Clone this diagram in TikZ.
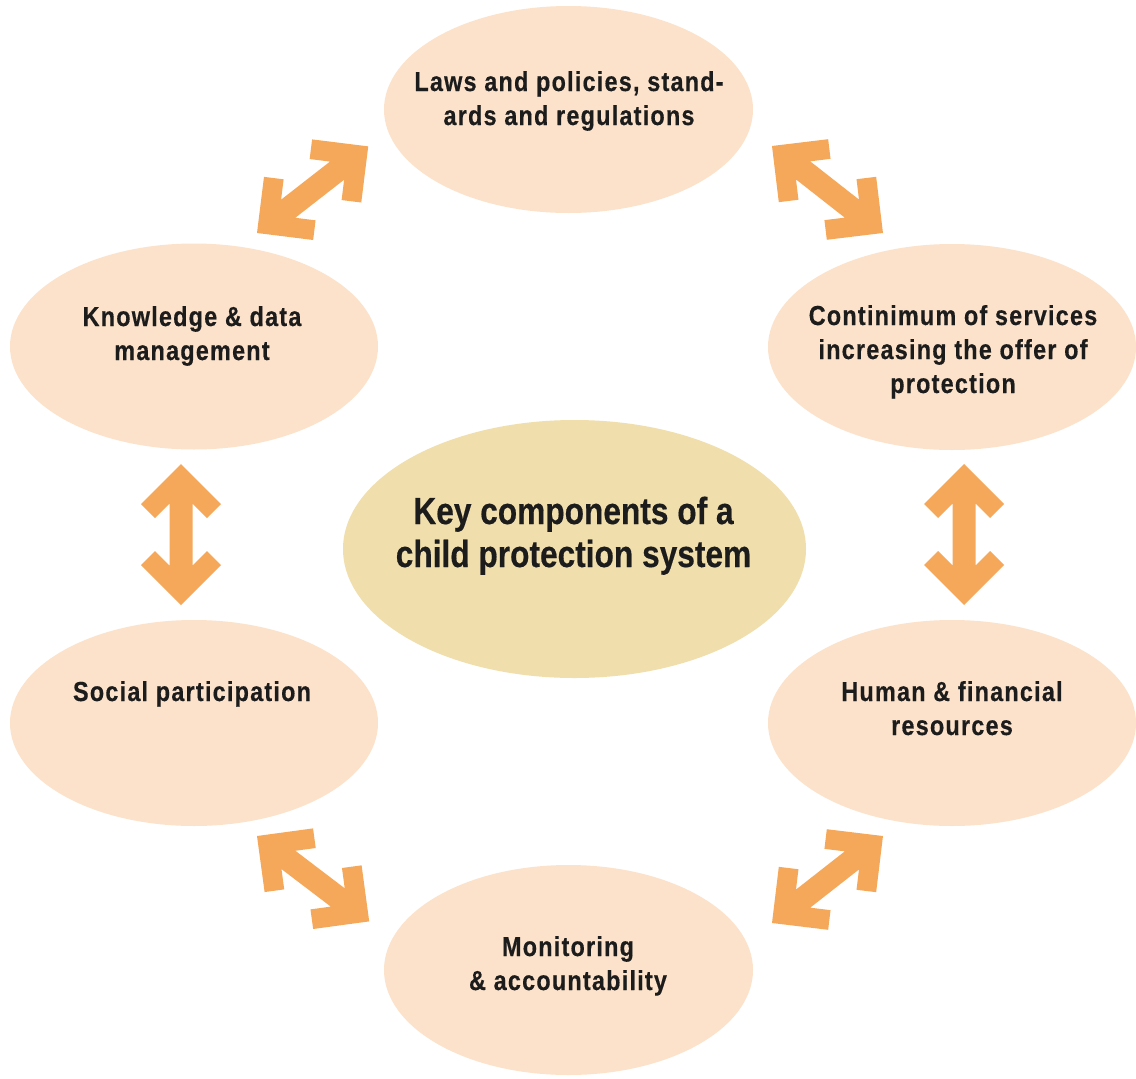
\documentclass[tikz,border=0pt]{standalone}
\usepackage{fontspec}
\setmainfont{Liberation Sans}
\newfontfamily\lblfont[FakeStretch=0.85,LetterSpace=4.5,FakeBold=0.4]{Liberation Sans}
\newfontfamily\keyfont[FakeStretch=0.84,FakeBold=0.4]{Liberation Sans}
\usetikzlibrary{shapes.geometric,calc}
\definecolor{peach}{RGB}{252,226,202}
\definecolor{sand}{RGB}{240,222,172}
\definecolor{arrowc}{RGB}{245,168,90}
\definecolor{inkc}{RGB}{28,28,28}
\tikzset{
  blob/.style={ellipse, fill=peach, draw=none, inner sep=0pt, minimum width=368pt, minimum height=206pt},
  lbl/.style={anchor=base, inner sep=0pt, text=inkc, font=\lblfont\bfseries\fontsize{27.5}{34}\selectfont},
  keylbl/.style={anchor=base, inner sep=0pt, text=inkc, font=\keyfont\bfseries\fontsize{37.7}{43}\selectfont},
  dblarrow/.pic={\fill[arrowc] (0,0) -- (40,40) -- (54,26) -- (39.5,11.5) -- (101.5,11.5) -- (87,26) -- (101,40) -- (141,0) -- (101,-40) -- (87,-26) -- (101.5,-11.5) -- (39.5,-11.5) -- (54,-26) -- (40,-40) -- cycle;}
}
\begin{document}
\begin{tikzpicture}[x=1pt,y=-1pt]
\useasboundingbox[fill=white] (0,0) rectangle (1136,1079);
% ellipses
\node[blob, minimum width=369pt, minimum height=207pt] (top) at (568.5,109.5) {};
\node[blob] (ul) at (194,346.5) {};
\node[blob] (ur) at (952,347) {};
\node[blob, fill=sand, minimum width=463pt, minimum height=258pt] (key) at (574.5,549) {};
\node[blob] (ll) at (194,723) {};
\node[blob] (lr) at (952,723) {};
\node[blob, minimum width=369pt, minimum height=210pt] (bot) at (568.5,970) {};
% labels
\node[lbl] (ttop) at (569,91) {\begin{tabular}[t]{@{}c@{}}Laws and policies, stand-\\ards and regulations\end{tabular}};
\node[lbl] (tul) at (192,326) {\begin{tabular}[t]{@{}c@{}}Knowledge \& data\\management\end{tabular}};
\node[lbl] (tur) at (953,325) {\begin{tabular}[t]{@{}c@{}}Continimum of services\\increasing the offer of\\protection\end{tabular}};
\node[keylbl] (tkey) at (573.5,524) {\begin{tabular}[t]{@{}c@{}}Key components of a\\child protection system\end{tabular}};
\node[lbl] (tll) at (192,701) {Social participation};
\node[lbl] (tlr) at (952,701) {\begin{tabular}[t]{@{}c@{}}Human \& financial\\resources\end{tabular}};
\node[lbl] (tbot) at (568,956) {\begin{tabular}[t]{@{}c@{}}Monitoring\\\& accountability\end{tabular}};
% arrow end points
\coordinate (a1s) at (257,233); \coordinate (a1e) at (370,145);
\coordinate (a2s) at (772,146); \coordinate (a2e) at (883,233);
\coordinate (a3s) at (181,605); \coordinate (a3e) at (181,464);
\coordinate (a4s) at (964,605); \coordinate (a4e) at (964,464);
\coordinate (a5s) at (257,836); \coordinate (a5e) at (370,922);
\coordinate (a6s) at (772,923); \coordinate (a6e) at (883,836);
\foreach \i in {1,...,6}{
  \path let \p1=($(a\i e)-(a\i s)$) in (a\i s) pic[rotate={atan2(\y1,\x1)}]{dblarrow};
}
\end{tikzpicture}
\end{document}
